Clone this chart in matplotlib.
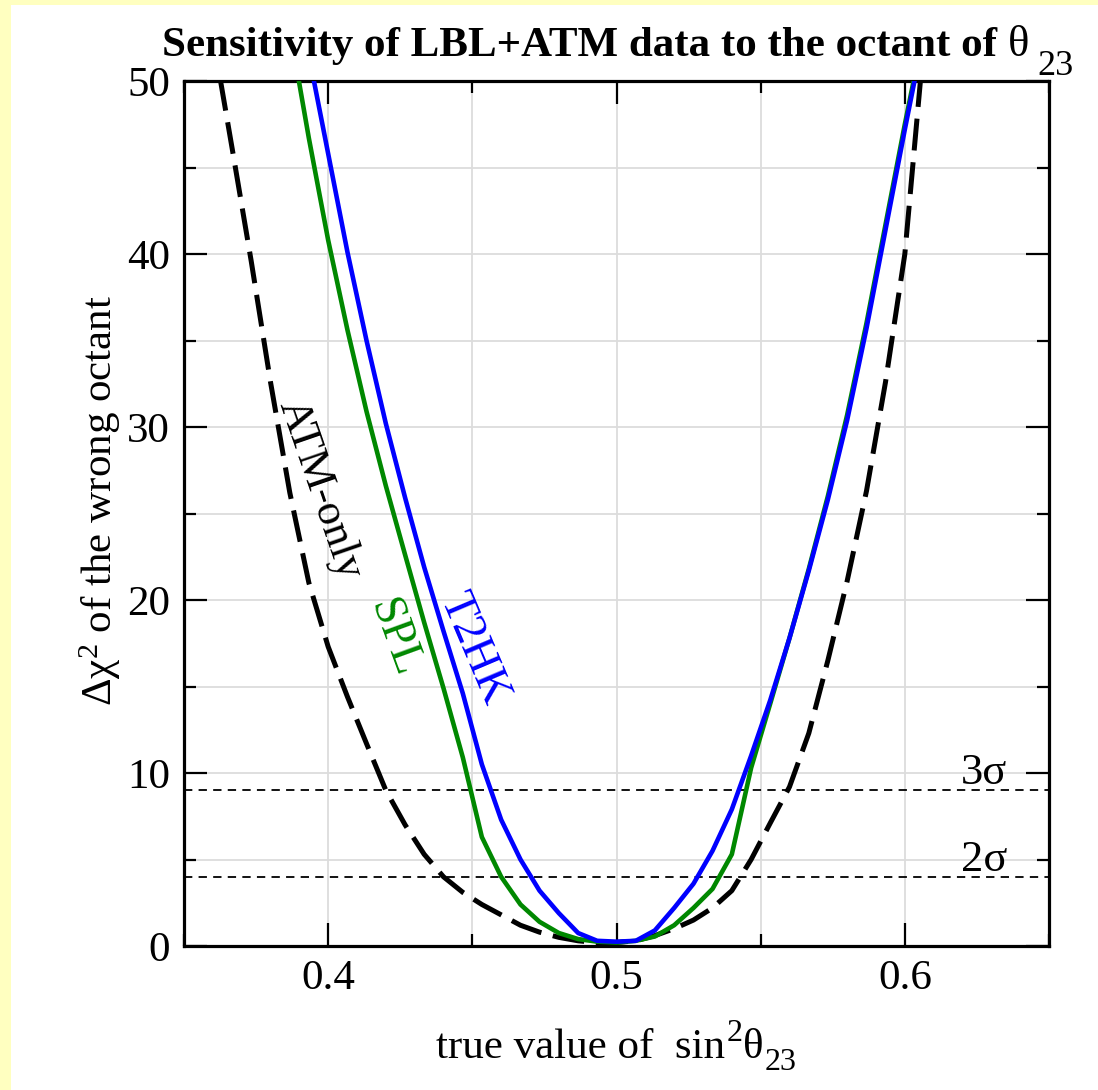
import matplotlib
matplotlib.use("Agg")
import matplotlib.pyplot as plt
from matplotlib.patches import Rectangle
from matplotlib.ticker import MultipleLocator

plt.rcParams['font.family'] = ['Liberation Serif', 'DejaVu Serif']
plt.rcParams['mathtext.fontset'] = 'custom'
plt.rcParams['mathtext.rm'] = 'Liberation Serif'
plt.rcParams['mathtext.it'] = 'Liberation Serif:italic'
plt.rcParams['mathtext.bf'] = 'Liberation Serif:bold'
plt.rcParams['mathtext.default'] = 'regular'
plt.rcParams['lines.scale_dashes'] = False

# ---------------- data ----------------
t2hk_x = [0.3933, 0.40, 0.4067, 0.4133, 0.42, 0.4267, 0.4333, 0.44, 0.4467, 0.4533,
          0.46, 0.4667, 0.4733, 0.48, 0.4867, 0.4933, 0.50, 0.5067, 0.5133, 0.52,
          0.5267, 0.5333, 0.54, 0.5467, 0.5533, 0.56, 0.5667, 0.5733, 0.58, 0.5867,
          0.5933, 0.60, 0.6067]
t2hk_y = [51.5, 45.8, 40.1, 35.0, 30.2, 25.9, 21.9, 18.2, 14.6, 10.5,
          7.3, 5.0, 3.2, 1.9, 0.75, 0.3, 0.25, 0.3, 0.9, 2.2,
          3.6, 5.5, 7.9, 11.0, 14.2, 17.8, 21.7, 25.8, 30.4, 35.7,
          41.4, 47.2, 52.8]

spl_x = [0.3867, 0.3933, 0.40, 0.4067, 0.4133, 0.42, 0.4267, 0.4333, 0.44, 0.4467,
         0.4533, 0.46, 0.4667, 0.4733, 0.48, 0.4867, 0.4933, 0.50, 0.5067, 0.5133,
         0.52, 0.5267, 0.5333, 0.54, 0.5467, 0.5533, 0.56, 0.5667, 0.5733, 0.58,
         0.5867, 0.5933, 0.60, 0.6067]
spl_y = [53.0, 46.7, 40.8, 35.6, 30.9, 26.6, 22.6, 18.7, 14.9, 10.9,
         6.3, 4.0, 2.4, 1.4, 0.75, 0.4, 0.25, 0.2, 0.3, 0.55,
         1.2, 2.2, 3.3, 5.3, 10.3, 14.0, 17.8, 21.8, 26.0, 30.7,
         36.0, 41.7, 47.5, 53.0]

atm_x = [0.36, 0.3667, 0.3733, 0.38, 0.3867, 0.3933, 0.40, 0.4067, 0.4133, 0.42,
         0.4267, 0.4333, 0.44, 0.4467, 0.4533, 0.46, 0.4667, 0.4733, 0.48, 0.4867,
         0.4933, 0.50, 0.5067, 0.5133, 0.52, 0.5267, 0.5333, 0.54, 0.5467, 0.5533,
         0.56, 0.5667, 0.5733, 0.58, 0.5867, 0.5933, 0.60, 0.6067]
atm_y = [52.6, 46.1, 39.6, 32.6, 26.2, 21.0, 17.3, 14.4, 11.7, 9.0,
         7.0, 5.3, 4.0, 3.1, 2.4, 1.8, 1.2, 0.8, 0.5, 0.3,
         0.2, 0.2, 0.3, 0.6, 1.0, 1.5, 2.2, 3.2, 5.0, 7.1,
         9.2, 12.3, 16.5, 21.1, 26.3, 32.6, 40.0, 52.4]

sigma_levels = [9, 4]
sigma_labels = ['3σ', '2σ']
x_ticks = [0.4, 0.5, 0.6]
x_ticklabels = ['0.4', '0.5', '0.6']
y_ticks = [0, 10, 20, 30, 40, 50]
y_ticklabels = ['0', '10', '20', '30', '40', '50']

# ---------------- figure ----------------
W, H = 1098, 1090
fig = plt.figure(figsize=(W / 100, H / 100), dpi=100)
fig.patch.set_facecolor('#ffffc0')
fig.add_artist(Rectangle((11 / W, 0), 1 - 11 / W, 1 - 5 / H, transform=fig.transFigure,
                         facecolor='white', edgecolor='none', zorder=-5))

ax = fig.add_axes([184 / W, 1 - 946 / H, (1049 - 184) / W, (946 - 81) / H])
ax.set_xlim(0.35, 0.65)
ax.set_ylim(0, 50)

ax.xaxis.set_minor_locator(MultipleLocator(0.05))
ax.yaxis.set_minor_locator(MultipleLocator(5))
ax.set_xticks(x_ticks)
ax.set_xticklabels(x_ticklabels)
ax.set_yticks(y_ticks)
ax.set_yticklabels(y_ticklabels)

ax.grid(True, which='both', color='#dcdcdc', lw=1.3, zorder=0)
ax.set_axisbelow(True)
ax.tick_params(which='both', direction='in', top=True, right=True, width=1.6,
               labelsize=31, colors='black')
ax.tick_params(which='major', length=16.5, pad=10)
ax.tick_params(which='minor', length=8.6)
for sp in ax.spines.values():
    sp.set_linewidth(2.3)

for lvl in sigma_levels:
    ax.axhline(lvl, color='black', lw=1.3, ls=(0, (6, 4.5)), zorder=2)

ax.plot(atm_x, atm_y, color='black', lw=3.6, ls=(0, (23, 8.5)), zorder=3)
ax.plot(spl_x, spl_y, color='#008800', lw=3.3, zorder=4)
ax.plot(t2hk_x, t2hk_y, color='#0000ff', lw=3.3, zorder=5)

ax.text(0.6355, 9.35, sigma_labels[0], fontsize=32, ha='right', va='baseline')
ax.text(0.6355, 4.35, sigma_labels[1], fontsize=32, ha='right', va='baseline')

ax.text(0.3972, 26.4, 'ATM-only', fontsize=32, rotation=-71, ha='center', va='center',
        rotation_mode='anchor', color='black')
ax.text(0.4228, 17.8, 'SPL', fontsize=33, rotation=-70, ha='center', va='center',
        rotation_mode='anchor', color='#008800')
ax.text(0.4505, 17.2, 'T2HK', fontsize=33, rotation=-67, ha='center', va='center',
        rotation_mode='anchor', color='#0000ff')

renderer = fig.canvas.get_renderer()


def px(x, y):
    return x / W, 1 - y / H


# title built from pieces (bold text, regular theta, lowered regular subscript)
t1 = fig.text(*px(162, 56), 'Sensitivity of LBL+ATM data to the octant of ',
              fontsize=31, fontweight='bold', ha='left', va='baseline')
x_end = t1.get_window_extent(renderer).x1
t2 = fig.text(x_end / W, 1 - 56 / H, 'θ', fontsize=32, ha='left', va='baseline')
x_end = t2.get_window_extent(renderer).x1
fig.text((x_end + 8) / W, 1 - 75 / H, '23', fontsize=26, ha='left', va='baseline')

# x label built from pieces, then centred
pieces = [('true value of  sin', 31, 0), ('2', 23, -17), ('θ', 31, 0), ('23', 23, 12)]
base_y = 1058
texts = []
cur = 0.0
for s, fs, dy in pieces:
    t = fig.text(cur / W, 1 - (base_y + dy) / H, s, fontsize=fs, ha='left', va='baseline')
    bb = t.get_window_extent(renderer)
    texts.append((t, cur))
    cur += bb.width + 1
shift = 617 - cur / 2
for t, x0 in texts:
    pos = t.get_position()
    t.set_position(((x0 + shift) / W, pos[1]))

fig.text(100 / W, 1 - 500 / H, 'Δχ$^2$ of the wrong octant', fontsize=31,
         rotation=90, ha='center', va='center')

fig.savefig('out.png', dpi=100, facecolor=fig.get_facecolor())
